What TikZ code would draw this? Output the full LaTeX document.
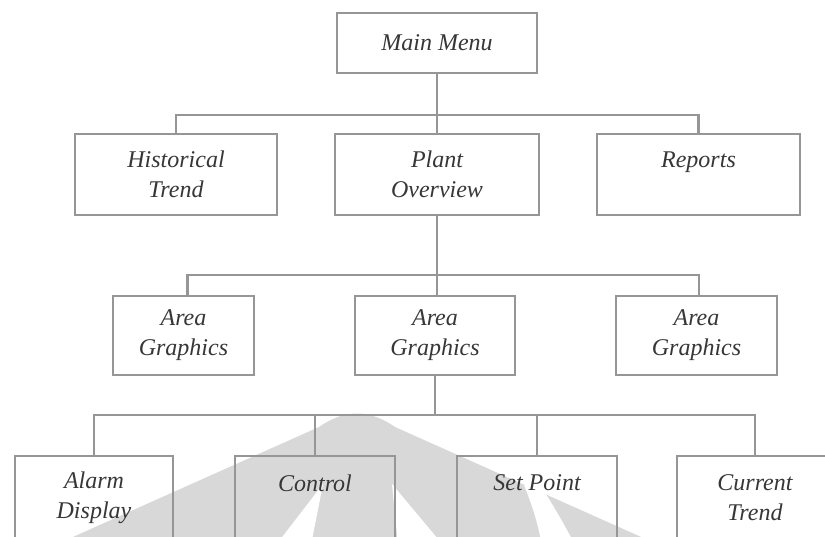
\documentclass[tikz,border=0pt]{standalone}
\usepackage{fontspec}
\setmainfont{Liberation Serif}
\definecolor{edgegray}{RGB}{150,150,150}
\definecolor{labelgray}{RGB}{55,55,55}
\definecolor{emblemgray}{RGB}{216,216,216}
\begin{document}
\begin{tikzpicture}[x=1pt,y=-1pt,
  menubox/.style={draw=edgegray, line width=2.4pt, align=center, inner sep=0pt,
    font=\itshape\fontsize{24}{30}\selectfont, text=labelgray},
  link/.style={draw=edgegray, line width=2.4pt}]
\useasboundingbox (0,0) rectangle (825,536);
\clip (0,0) rectangle (825,536);
\fill[white] (0,0) rectangle (825,536);

% faint emblem behind the lowest row
\fill[emblemgray] (55,545) -- (319,427) .. controls (345,409) and (369,409) .. (395,427) -- (659,545) -- cycle;
\fill[white] (323,484) -- (276,545) -- (311,545) -- cycle;
\fill[white] (392,484) -- (398,545) -- (443,545) -- cycle;
\fill[white] (524,485) .. controls (532,505) and (537,520) .. (542,545) -- (575,545) .. controls (562,520) and (550,500) .. (540,485) -- cycle;

% menu boxes
\node[menubox, minimum width=200, minimum height=60] (main) at (437,43) {Main Menu};

\node[menubox, minimum width=202, minimum height=81] (hist) at (176,174.5) {Historical\\Trend};
\node[menubox, minimum width=204, minimum height=81] (plant) at (437,174.5) {Plant\\Overview};
\node[menubox, minimum width=203, minimum height=81] (rep) at (698.5,174.5) {Reports\\~};

\node[menubox, minimum width=141, minimum height=79] (ag1) at (183.5,335.5) {Area\\Graphics};
\node[menubox, minimum width=160, minimum height=79] (ag2) at (435,335.5) {Area\\Graphics};
\node[menubox, minimum width=161, minimum height=79] (ag3) at (696.5,335.5) {Area\\Graphics};

\node[menubox, minimum width=158, minimum height=84] (alarm) at (94,498) {Alarm\\Display};
\node[menubox, minimum width=160, minimum height=84] (ctl) at (315,498) {Control\\~};
\node[menubox, minimum width=160, minimum height=84] (sp) at (537,498) {Set Point\\~};
\node[menubox, minimum width=156, minimum height=84] (cur) at (755,498) {Current\\Trend};

% connectors
\coordinate (b1) at (437,115);
\coordinate (b2) at (437,275);
\coordinate (b3) at (435,415);

\draw[link] (main.south) -- (plant.north);
\draw[link] (hist.north) |- (b1) -| (rep.north);

\draw[link] (plant.south) -- (plant.south |- ag2.north);
\draw[link] ([xshift=4pt]ag1.north) |- (b2) -| ([xshift=2.5pt]ag3.north);

\draw[link] (ag2.south) -- (b3);
\draw[link] (alarm.north) |- (b3) -| (cur.north);
\draw[link] (ctl.north) -- (ctl.north |- b3);
\draw[link] (sp.north) -- (sp.north |- b3);
\end{tikzpicture}
\end{document}
